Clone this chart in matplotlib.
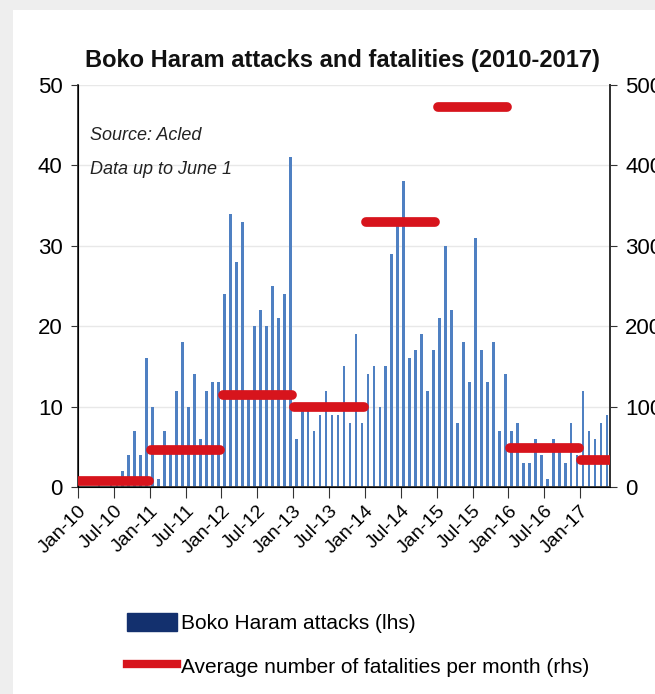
import matplotlib
matplotlib.use("Agg")
import matplotlib.pyplot as plt
from matplotlib.patches import Patch, Rectangle
from matplotlib.lines import Line2D
import numpy as np

plt.rcParams['font.family'] = ['Liberation Sans Narrow', 'Liberation Sans', 'DejaVu Sans']

# Monthly Boko Haram attacks, Jan-2010 .. May-2017
attacks_2010 = [0, 0, 0, 1, 0, 1, 1, 2, 4, 7, 4, 16]
attacks_2011 = [10, 1, 7, 5, 12, 18, 10, 14, 6, 12, 13, 13]
attacks_2012 = [24, 34, 28, 33, 11, 20, 22, 20, 25, 21, 24, 41]
attacks_2013 = [6, 10, 10, 7, 9, 12, 9, 9, 15, 8, 19, 8]
attacks_2014 = [14, 15, 10, 15, 29, 33, 38, 16, 17, 19, 12, 17]
attacks_2015 = [21, 30, 22, 8, 18, 13, 31, 17, 13, 18, 7, 14]
attacks_2016 = [7, 8, 3, 3, 6, 4, 1, 6, 5, 3, 8, 4]
attacks_2017 = [12, 7, 6, 8, 9]
attacks = (attacks_2010 + attacks_2011 + attacks_2012 + attacks_2013 +
           attacks_2014 + attacks_2015 + attacks_2016 + attacks_2017)

years = [2010, 2011, 2012, 2013, 2014, 2015, 2016, 2017]
avg_fatalities = [7, 46, 115, 99, 329, 473, 49, 34]

tick_labels = ["Jan-10", "Jul-10", "Jan-11", "Jul-11", "Jan-12", "Jul-12", "Jan-13",
               "Jul-13", "Jan-14", "Jul-14", "Jan-15", "Jul-15", "Jan-16", "Jul-16", "Jan-17"]

n = len(attacks)
fig = plt.figure(figsize=(6.55, 6.94), dpi=100, facecolor='#eeeeee')
bg = Rectangle((13/655, 0), 1, 1 - 10/694, transform=fig.transFigure,
               facecolor='white', edgecolor='none', zorder=-10)
fig.add_artist(bg)

ax = fig.add_axes([78/655, 1 - 487/694, 532/655, 402/694])
ax.set_facecolor('none')
x = np.arange(n) + 0.5
ax.bar(x, attacks, width=0.45, color='#4f80c2', zorder=2)
ax.set_xlim(0, n)
ax.set_ylim(0, 50)
ax.set_yticks(range(0, 51, 10))
ax.grid(axis='y', color='#e8e8e8', linewidth=1, zorder=0)
ax.set_axisbelow(True)
ax.set_xticks(np.arange(0, n, 6))
ax.set_xticklabels(tick_labels, rotation=45, ha='right', rotation_mode='anchor', fontsize=14)
ax.tick_params(axis='x', length=8, direction='out', color='#333333', pad=3)
ax.tick_params(axis='y', length=5, direction='out', labelsize=16, color='#333333', pad=6)
ax.spines['top'].set_visible(False)
for s in ['left', 'bottom', 'right']:
    ax.spines[s].set_color('#333333')
    ax.spines[s].set_linewidth(1.3)

ax2 = ax.twinx()
ax2.set_ylim(0, 500)
ax2.set_yticks(range(0, 501, 100))
ax2.tick_params(axis='y', length=5, direction='out', labelsize=16, color='#333333', pad=6)
ax2.spines['top'].set_visible(False)
ax2.spines['right'].set_color('#333333')
ax2.spines['right'].set_linewidth(1.3)
for i, (yr, v) in enumerate(zip(years, avg_fatalities)):
    start = i * 12
    end = min(start + 12, n)
    ax2.plot([start + 0.2, end - 0.2], [v, v], color='#d7141c', linewidth=7,
             solid_capstyle='round', zorder=3)

ax.text(0.022, 0.875, "Source: Acled", transform=ax.transAxes, fontsize=13,
        style='italic', color='#222222', va='center')
ax.text(0.022, 0.79, "Data up to June 1", transform=ax.transAxes, fontsize=13,
        style='italic', color='#222222', va='center')

fig.text(342/655, 1 - 61/694, "Boko Haram attacks and fatalities (2010-2017)",
         ha='center', va='center', fontsize=17, fontweight='bold', color='#111111')

handles = [Patch(facecolor='#13306e', edgecolor='#13306e'),
           Line2D([0], [0], color='#d7141c', linewidth=6)]
labels = ["Boko Haram attacks (lhs)", "Average number of fatalities per month (rhs)"]
fig.legend(handles, labels, loc='upper left', bbox_to_anchor=(108/655, 1 - 594/694),
           frameon=False, fontsize=15, handlelength=2.4, handleheight=1.0,
           labelspacing=1.1, handletextpad=0.2)

fig.savefig("out.png", dpi=100, facecolor=fig.get_facecolor())
